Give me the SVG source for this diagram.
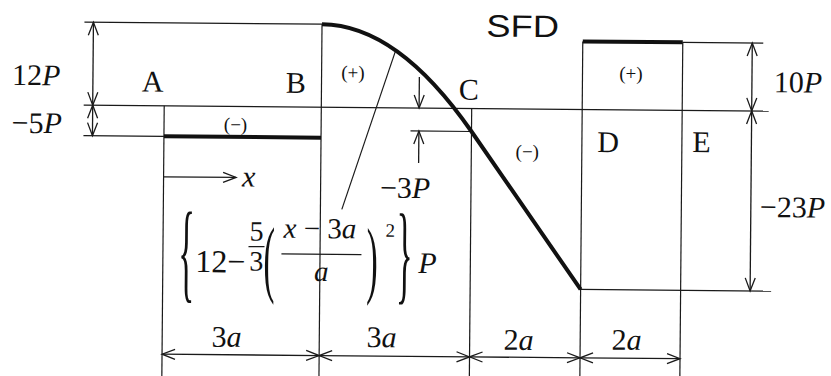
<svg xmlns="http://www.w3.org/2000/svg" width="831" height="376" viewBox="0 0 831 376">
<defs>
<style>
.t{stroke:#1a1a1a;stroke-width:1.2;fill:none}
.k{stroke:#111;stroke-width:4;fill:none;stroke-linecap:butt}
.d{stroke:#1a1a1a;stroke-width:1.3;fill:none;marker-start:url(#ah);marker-end:url(#ah)}
.e{stroke:#1a1a1a;stroke-width:1.3;fill:none;marker-end:url(#ah)}
text{font-family:"Liberation Serif","Times New Roman",serif;fill:#111}
.i{font-style:italic}
.L{font-size:30px}
.s{font-size:19px}
.sans{font-family:"Liberation Sans",Arial,sans-serif}
</style>
<marker id="ah" markerWidth="16" markerHeight="14" refX="14" refY="7" orient="auto-start-reverse" markerUnits="userSpaceOnUse" viewBox="0 0 16 14" overflow="visible">
<path d="M1,2 L14,7 L1,12" fill="none" stroke="#1a1a1a" stroke-width="1.3"/>
</marker>
</defs>
<rect width="831" height="376" fill="#fff"/>
<g transform="rotate(0.5 415 188)">
<g id="grid">
<line class="t" x1="83" y1="25" x2="320.6" y2="25"/>
<line class="t" x1="83" y1="108" x2="768" y2="108"/>
<line class="t" x1="83" y1="138.5" x2="163.5" y2="138.5"/>
<line class="t" x1="681.5" y1="40" x2="762" y2="40"/>
<line class="t" x1="581.5" y1="288" x2="772" y2="288"/>
<line class="t" x1="410" y1="131" x2="471" y2="131"/>
<line class="t" x1="163.5" y1="108" x2="163.5" y2="385"/>
<line class="t" x1="320.6" y1="25" x2="320.6" y2="385"/>
<line class="t" x1="471" y1="108" x2="471" y2="385"/>
<line class="t" x1="581.5" y1="40" x2="581.5" y2="385"/>
<line class="t" x1="681.5" y1="40" x2="681.5" y2="385"/>
<line class="t" x1="394" y1="52" x2="342" y2="210"/>
</g>
<g id="sfd-curve">
<line class="k" x1="163.5" y1="138.5" x2="320.6" y2="138.5"/>
<path class="k" d="M320.6,25 Q396,25 471,131 L581.5,288"/>
<line class="k" x1="581.5" y1="40" x2="681.5" y2="40"/>
</g>
<g id="connectors">
<line class="d" x1="92" y1="25" x2="92" y2="108"/>
<line class="d" x1="92" y1="108" x2="92" y2="138.5"/>
<line class="d" x1="751" y1="40" x2="751" y2="108"/>
<line class="d" x1="751" y1="108" x2="751" y2="288"/>
<line class="e" x1="418.4" y1="77" x2="418.4" y2="108"/>
<line class="e" x1="418.4" y1="163" x2="418.4" y2="131"/>
<line class="e" x1="163.5" y1="179" x2="236" y2="179"/>
<line class="d" x1="163.5" y1="356.4" x2="320.6" y2="356.4"/>
<line class="d" x1="320.6" y1="356.4" x2="471" y2="356.4"/>
<line class="d" x1="471" y1="356.4" x2="581.5" y2="356.4"/>
<line class="d" x1="581.5" y1="356.4" x2="681.5" y2="356.4"/>
</g>
<g id="title"><text class="sans" transform="translate(485,36) scale(1.17,1)" font-size="31">SFD</text></g>
<g id="node-A"><text class="L" x="141" y="94">A</text></g>
<g id="node-B"><text class="L" x="285" y="94">B</text></g>
<g id="node-C"><text class="L" x="458" y="99">C</text></g>
<g id="node-D"><text class="L" x="597" y="150.5">D</text></g>
<g id="node-E"><text class="L" x="692" y="149.6">E</text></g>
<g id="signs">
<text class="s" x="235" y="132.5" text-anchor="middle">(−)</text>
<text class="s" x="352" y="79.5" text-anchor="middle">(+)</text>
<text class="s" x="527" y="157" text-anchor="middle">(−)</text>
<text class="s" x="630" y="78" text-anchor="middle">(+)</text>
</g>
<g id="values">
<text class="L" x="11" y="88.5">12<tspan class="i">P</tspan></text>
<text class="L" x="11" y="136.3">−5<tspan class="i">P</tspan></text>
<text class="L" x="380" y="198">−3<tspan class="i">P</tspan></text>
<text class="L" x="773" y="89">10<tspan class="i">P</tspan></text>
<text class="L" x="760" y="214">−23<tspan class="i">P</tspan></text>
<text class="L i" x="242" y="188">x</text>
</g>
<g id="dims">
<text class="L" x="213" y="348.5">3<tspan class="i">a</tspan></text>
<text class="L" x="368" y="347.5">3<tspan class="i">a</tspan></text>
<text class="L" x="505" y="349">2<tspan class="i">a</tspan></text>
<text class="L" x="613" y="348">2<tspan class="i">a</tspan></text>
</g>
<g id="formula">
<text transform="translate(179,290) scale(1,3.25)" font-size="34">{</text>
<text x="196" y="274" font-size="32">12−</text>
<text x="257" y="242" font-size="28" text-anchor="middle">5</text>
<line class="t" x1="249" y1="248" x2="265" y2="248"/>
<text x="257" y="272" font-size="28" text-anchor="middle">3</text>
<text transform="translate(264,287.8) scale(1,2.52)" font-size="34">(</text>
<text x="284" y="239" font-size="29"><tspan class="i">x</tspan> − 3<tspan class="i">a</tspan></text>
<line class="t" x1="282" y1="255" x2="362" y2="255"/>
<text class="i" x="322" y="282" font-size="29" text-anchor="middle">a</text>
<text transform="translate(367,287.8) scale(1,2.52)" font-size="34">)</text>
<text x="386" y="237" font-size="19">2</text>
<text transform="translate(397,290) scale(1,3.25)" font-size="34">}</text>
<text class="L i" x="419" y="273" font-size="32">P</text>
</g>
</g>
</svg>
